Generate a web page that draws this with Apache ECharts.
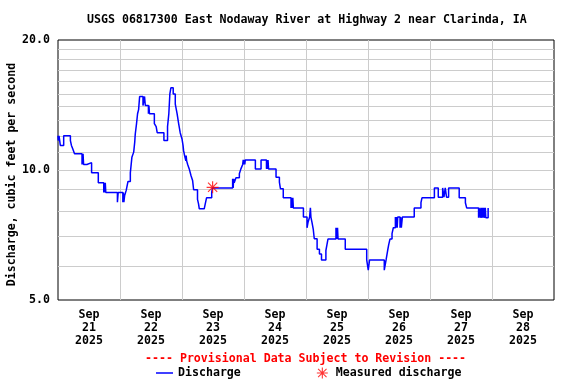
<!DOCTYPE html>
<html><head><meta charset="utf-8">
<script src="https://cdn.jsdelivr.net/npm/echarts@6/dist/echarts.min.js"></script>
<style>html,body{margin:0;padding:0;background:#fff}#c{width:576px;height:384px}</style>
</head><body><div id="c"></div>
<script>
const titleText = 'USGS 06817300 East Nodaway River at Highway 2 near Clarinda, IA';
const yAxisName = 'Discharge, cubic feet per second';
const provisionalText = '---- Provisional Data Subject to Revision ----';
const seriesNames = ['Discharge', 'Measured discharge'];
const dayMonth = 'Sep';
const dayYear = '2025';
const dayNumbers = ['21', '22', '23', '24', '25', '26', '27', '28'];
const yBase = 5;
const yGridValues = [6, 7, 8, 9, 11, 12, 13, 14, 15, 16, 17, 18, 19];
// hours since Sep 21 00:00
const dischargeHours = [
  0, 0.1, 0.4, 0.9, 2.2, 4.8, 5.2, 5.7, 6.4, 9.3, 9.4, 9.6, 9.7, 9.9, 10.0, 10.4, 11.2, 13.0, 15.6,
  17.7, 17.9, 18.1, 18.3, 18.5, 23.0, 23.3, 25.1, 25.3, 25.5, 25.8, 26.4, 27.1, 28.0, 28.6, 29.3,
  29.7, 29.9, 30.4, 30.8, 31.2, 31.6, 32.9, 33.5, 33.8, 35.0, 35.2, 35.4, 37.3, 38.0, 38.4, 41.0,
  42.4, 42.9, 43.3, 43.7, 44.6, 45.4, 46.1, 46.7, 47.3, 48.0, 48.4, 48.6, 49.0, 49.5, 49.6, 49.8,
  50.2, 50.8, 51.5, 52.1, 52.5, 54.0, 54.4, 54.7, 56.6, 57.0, 57.5, 59.5, 59.8, 67.6, 67.8, 68.0,
  68.2, 68.9, 70.2, 70.8, 71.5, 71.7, 71.9, 72.1, 72.3, 72.5, 76.4, 78.6, 80.7, 80.9, 81.1, 81.3,
  81.5, 84.4, 85.7, 86.1, 87.2, 90.2, 90.4, 90.6, 90.9, 91.1, 95.0, 96.4, 96.8, 97.4, 97.7, 97.9,
  98.3, 98.8, 99.2, 100.3, 101.2, 102.0, 103.7, 104.1, 104.5, 107.6, 108.0, 108.2, 108.4, 111.2,
  119.5, 120.1, 120.6, 126.3, 127.0, 127.6, 128.0, 128.5, 129.3, 129.8, 130.6, 130.8, 131.0, 131.3,
  131.5, 132.4, 132.6, 132.9, 133.3, 137.9, 140.5, 140.9, 145.7, 147.2, 148.9, 149.4, 149.9, 150.4,
  151.2, 155.3, 157.7, 158.2, 162.8, 163.0, 163.5, 163.7, 164.1, 164.3, 164.5, 164.8, 165.0, 165.4,
  165.6, 166.2, 166.5, 166.7
];
const dischargeValues = [
  12.0, 11.7, 12.0, 11.4, 12.0, 11.7, 11.4, 11.2, 10.9, 10.3, 10.9, 10.3, 10.9, 10.3, 10.2, 10.3, 10.4, 9.85, 9.34,
  8.87, 9.34, 8.87, 9.34, 8.87, 8.42, 8.87, 8.42, 8.87, 8.42, 8.73, 8.97, 9.41, 9.85, 10.7, 11.0,
  11.6, 12.1, 12.8, 13.5, 13.8, 14.8, 14.1, 14.8, 14.1, 13.5, 14.1, 13.5, 12.8, 12.6, 12.2, 11.7,
  12.6, 13.5, 15.0, 15.5, 15.0, 14.2, 13.5, 12.8, 12.2, 11.8, 11.4, 11.1, 10.8, 10.5, 10.8, 10.5,
  10.3, 10.06, 9.7, 9.46, 9.0, 8.55, 8.35, 8.13, 8.2, 8.35, 8.62, 8.88, 9.09, 9.54, 9.09, 9.54,
  9.34, 9.6, 9.8, 10.06, 10.3, 10.55, 10.3, 10.55, 10.3, 10.55, 10.06, 10.55, 10.06, 10.55, 10.06, 10.55,
  10.06, 9.62, 9.37, 9.05, 8.62, 8.17, 8.62, 8.17, 8.62, 8.17, 7.78, 7.35, 7.57, 7.78, 8.17, 7.78,
  7.57, 7.3, 6.93, 6.55, 6.39, 6.19, 6.51, 6.71, 6.92, 7.35, 6.92, 7.35, 6.92, 6.55,
  6.19, 5.86, 6.19, 5.86, 6.19, 6.51, 6.71, 6.92, 7.12, 7.35, 7.78, 7.35, 7.78, 7.35,
  7.78, 7.35, 7.78, 7.35, 7.78, 8.17, 8.40, 8.62, 9.09, 8.65, 9.09, 8.65, 9.09, 8.65,
  9.09, 8.62, 8.40, 8.17, 7.75, 8.17, 7.75, 8.17, 7.75, 8.17, 7.75, 8.17, 7.75, 8.17,
  7.75, 7.75, 8.17, 8.17
];
const measuredHours = [59.85];
const measuredValues = [9.12];

const FONT = 'DejaVu Sans Mono';
const FS = 11.6;
const toAxis = v => Math.log2(v / yBase);
const asteriskPath = 'path://M0,5.4L12,5.4L12,6.6L0,6.6Z M5.4,0L6.6,0L6.6,12L5.4,12Z M1,1.8L1.8,1L11,10.2L10.2,11Z M10.2,1L11,1.8L1.8,11L1,10.2Z';
const linePath = 'path://M0,0L17,0L17,1.5L0,1.5Z';
const gridStyle = {show: true, showMinLine: false, showMaxLine: false, lineStyle: {color: '#cccccc', width: 1}};

const chart = echarts.init(document.getElementById('c'), null, {renderer: 'canvas'});
chart.setOption({
  animation: false,
  backgroundColor: '#fff',
  title: [
    {text: titleText, left: 87, top: 14, padding: 0,
     textStyle: {fontFamily: FONT, fontSize: FS, fontWeight: 'bold', color: '#000'}},
    {text: provisionalText, left: 145, top: 353, padding: 0,
     textStyle: {fontFamily: FONT, fontSize: FS, fontWeight: 'bold', color: '#ff0000'}}
  ],
  legend: {
    left: 156, top: 367, padding: 0, itemGap: 76, itemWidth: 17, itemHeight: 11,
    textStyle: {fontFamily: FONT, fontSize: FS, fontWeight: 'bold', color: '#000'},
    data: [
      {name: seriesNames[0], icon: linePath, itemStyle: {color: '#0000ff'}},
      {name: seriesNames[1], icon: asteriskPath, itemStyle: {color: '#ff0000'}}
    ]
  },
  grid: {left: 58, top: 40, width: 496, height: 260, show: true, borderColor: '#000', borderWidth: 1,
    backgroundColor: 'transparent', containLabel: false, outerBoundsMode: 'none'},
  xAxis: [
    {type: 'value', min: 0, max: 192, interval: 24,
     axisLine: {show: false}, axisTick: {show: false}, axisLabel: {show: false},
     splitLine: gridStyle},
    {type: 'category', position: 'bottom', boundaryGap: true,
     data: dayNumbers.map(d => dayMonth + '\n' + d + '\n' + dayYear),
     axisLine: {show: false}, axisTick: {show: false}, splitLine: {show: false},
     axisLabel: {margin: 8, fontFamily: FONT, fontSize: FS, fontWeight: 'bold', color: '#000', lineHeight: 13, interval: 0}}
  ],
  yAxis: {
    type: 'value', min: 0, max: 2, interval: 1,
    name: yAxisName, nameLocation: 'middle', nameGap: 40, nameMoveOverlap: false,
    nameTextStyle: {fontFamily: FONT, fontSize: FS, fontWeight: 'bold', color: '#000', padding: [0, 9, 0, 0]},
    axisLine: {show: false}, axisTick: {show: false},
    axisLabel: {margin: 8, fontFamily: FONT, fontSize: FS, fontWeight: 'bold', color: '#000',
      formatter: v => (yBase * Math.pow(2, v)).toFixed(1)},
    splitLine: gridStyle
  },
  series: [
    {type: 'line', name: '_grid', data: [], z: 1, silent: true, xAxisIndex: 0,
     markLine: {silent: true, symbol: 'none', label: {show: false}, animation: false,
       lineStyle: {color: '#cccccc', type: 'solid', width: 1},
       data: yGridValues.map(v => ({yAxis: toAxis(v)}))}},
    {type: 'line', name: seriesNames[0], xAxisIndex: 0, step: 'end', showSymbol: false, z: 5,
     lineStyle: {color: '#0000ff', width: 1.5}, itemStyle: {color: '#0000ff'},
     data: dischargeHours.map((h, i) => [h, toAxis(dischargeValues[i])])},
    {type: 'scatter', name: seriesNames[1], xAxisIndex: 0, symbol: asteriskPath, symbolSize: 12, z: 6,
     itemStyle: {color: '#ff0000'},
     data: measuredHours.map((h, i) => [h, toAxis(measuredValues[i])])}
  ]
});
</script></body></html>
